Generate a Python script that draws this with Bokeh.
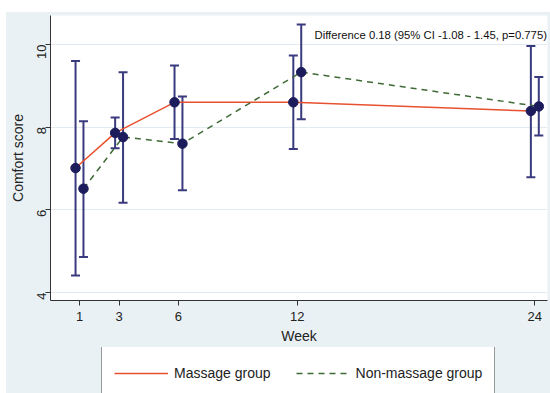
import math
from bokeh.plotting import figure
from bokeh.models import ColumnDataSource, Whisker, TeeHead, Legend, LegendItem, Range1d, FixedTicker, Spacer
from bokeh.layouts import column, row
from bokeh.core.properties import value
from bokeh.embed import file_html
from bokeh.resources import INLINE

weeks = [1, 3, 6, 12, 24]
massage_mean = [7.01, 7.86, 8.60, 8.60, 8.39]
massage_lo = [4.41, 7.49, 7.71, 7.47, 6.79]
massage_hi = [9.60, 8.23, 9.49, 9.73, 9.96]
non_mean = [6.51, 7.76, 7.60, 9.33, 8.50]
non_lo = [4.86, 6.17, 6.47, 8.19, 7.80]
non_hi = [8.14, 9.33, 8.74, 10.48, 9.21]
annotation = "Difference 0.18 (95% CI -1.08 - 1.45, p=0.775)"
legend_labels = ["Massage group", "Non-massage group"]

offset = 0.2
FONT = "Liberation Sans"
NAVY = "#1c1c5c"
BAR = "#3a3a7e"
ORANGE = "#e8512e"
GREEN = "#3f6b37"
BG = "#e9f1f4"

p = figure(width=544, height=335, output_backend="svg", toolbar_location=None,
           x_range=Range1d(-0.465, 24.64), y_range=Range1d(3.806, 10.70),
           min_border_left=44, min_border_top=3, min_border_right=3, min_border_bottom=47)
p.background_fill_color = "white"
p.border_fill_color = BG
p.outline_line_color = None
p.xgrid.grid_line_color = None
p.ygrid.grid_line_color = "#e2ebef"
p.ygrid.grid_line_width = 1

ms = ColumnDataSource(dict(x=[w - offset for w in weeks], y=massage_mean, lo=massage_lo, hi=massage_hi))
ns = ColumnDataSource(dict(x=[w + offset for w in weeks], y=non_mean, lo=non_lo, hi=non_hi))

p.line("x", "y", source=ms, line_color=ORANGE, line_width=1.5)
p.line("x", "y", source=ns, line_color=GREEN, line_width=1.5, line_dash="6 5")

for src in (ms, ns):
    w = Whisker(source=src, base="x", upper="hi", lower="lo", dimension="height",
                line_color=BAR, line_width=2,
                upper_head=TeeHead(size=9, line_color=BAR, line_width=2),
                lower_head=TeeHead(size=9, line_color=BAR, line_width=2))
    p.add_layout(w)
    p.scatter("x", "y", source=src, size=9.5, fill_color=NAVY, line_color=NAVY)

p.text(x=[12.87], y=[10.22], text=[annotation], text_baseline="middle", text_align="left",
       text_font=value(FONT), text_font_size="11.3px", text_color="#111111")

for ax in (p.xaxis[0], p.yaxis[0]):
    ax.axis_line_color = "#333333"
    ax.major_tick_line_color = "#333333"
    ax.major_tick_out = 5
    ax.major_tick_in = 0
    ax.minor_tick_line_color = None
    ax.major_label_text_font = FONT
    ax.major_label_text_font_size = "13px"
    ax.major_label_text_color = "#222222"
    ax.axis_label_text_font = FONT
    ax.axis_label_text_font_size = "14px"
    ax.axis_label_text_font_style = "normal"
    ax.axis_label_text_color = "#222222"

p.xaxis.ticker = FixedTicker(ticks=weeks)
p.xaxis.axis_label = "Week"
p.xaxis.major_label_standoff = 6
p.xaxis.axis_label_standoff = 4
p.yaxis.ticker = FixedTicker(ticks=[4, 6, 8, 10])
p.yaxis.axis_label = "Comfort score"
p.yaxis.major_label_orientation = math.pi / 2
p.yaxis.major_label_standoff = 4
p.yaxis.axis_label_standoff = 4

# legend strip below the plot (transparent; the column's background shows through)
q = figure(width=544, height=46, output_backend="svg", toolbar_location=None,
           x_range=Range1d(0, 1), y_range=Range1d(0, 1),
           x_axis_location=None, y_axis_location=None,
           min_border_left=44, min_border_right=3, min_border_top=0, min_border_bottom=0)
q.background_fill_alpha = 0
q.border_fill_alpha = 0
q.outline_line_color = None
q.grid.grid_line_color = None
nan = float("nan")
k1 = q.line(x=[nan], y=[nan], line_color=ORANGE, line_width=1.5)
k2 = q.line(x=[nan], y=[nan], line_color=GREEN, line_width=1.5, line_dash="6 5")

legend = Legend(items=[LegendItem(label=legend_labels[0], renderers=[k1]),
                       LegendItem(label=legend_labels[1], renderers=[k2])],
                location=(51, -7), orientation="horizontal",
                padding=12, spacing=25, glyph_width=54, glyph_height=28, label_height=28,
                label_standoff=6, margin=0,
                label_text_font=FONT, label_text_font_size="14px", label_text_color="#222222",
                border_line_color="#333333", border_line_width=1,
                background_fill_color="white", background_fill_alpha=1)
q.add_layout(legend, "center")

inner = column(p, q, styles={"background-color": BG})
layout = column(Spacer(width=550, height=12),
                row(Spacer(width=6, height=381), inner))
open("out.html", "w").write(file_html(layout, INLINE))
